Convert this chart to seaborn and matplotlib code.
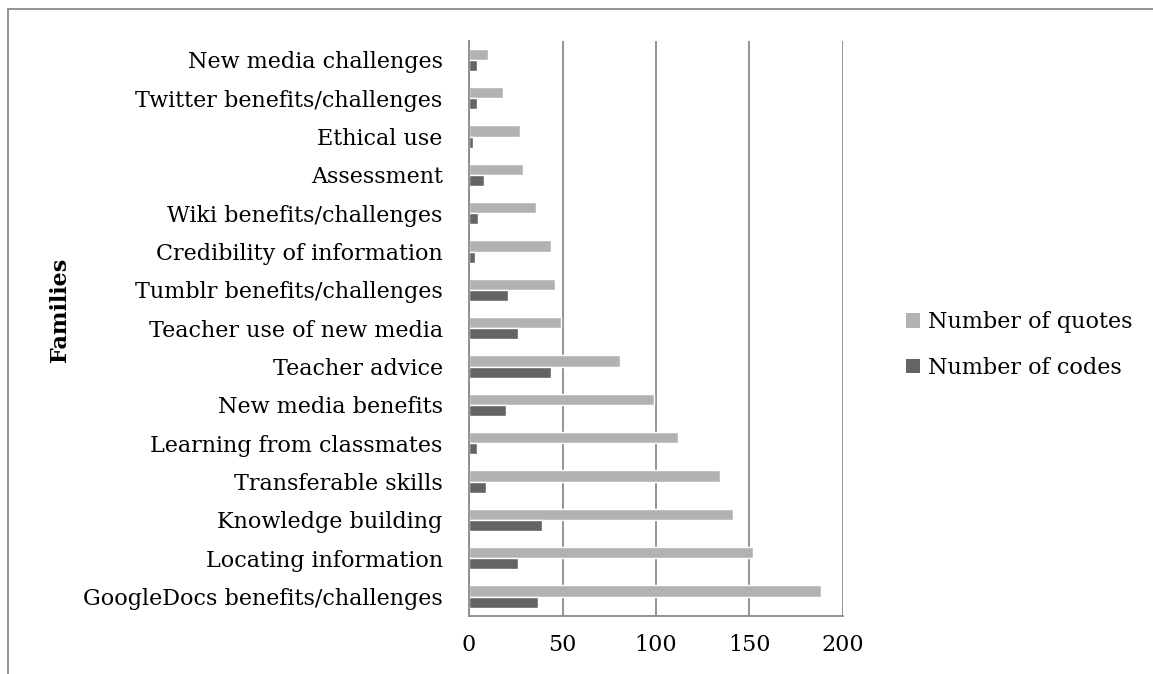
import matplotlib
matplotlib.use("Agg")
import matplotlib.pyplot as plt
import numpy as np
import pandas as pd
import seaborn as sns
from matplotlib.lines import Line2D
from matplotlib.patches import Patch

# Categories, listed top to bottom as they appear in the chart
families = [
    "New media challenges",
    "Twitter benefits/challenges",
    "Ethical use",
    "Assessment",
    "Wiki benefits/challenges",
    "Credibility of information",
    "Tumblr benefits/challenges",
    "Teacher use of new media",
    "Teacher advice",
    "New media benefits",
    "Learning from classmates",
    "Transferable skills",
    "Knowledge building",
    "Locating information",
    "GoogleDocs benefits/challenges",
]
quotes = [10, 18, 27, 29, 36, 44, 46, 49, 81, 99, 112, 134, 141, 152, 188]
codes = [4, 4, 2, 8, 5, 3, 21, 26, 44, 20, 4, 9, 39, 26, 37]
series = ["Number of quotes", "Number of codes"]
colors = ["#B2B2B2", "#646464"]
xticks = [0, 50, 100, 150, 200]

df = pd.DataFrame({
    "family": families * 2,
    "value": quotes + codes,
    "series": [series[0]] * len(families) + [series[1]] * len(families),
})

sns.set_style("white")
plt.rcParams["font.family"] = ["DejaVu Serif"]
plt.rcParams["text.color"] = "black"
plt.rcParams["axes.labelcolor"] = "black"

fs = 16
fig = plt.figure(figsize=(11.53, 6.74), dpi=100)
ax = fig.add_axes([0.4068, 0.0865, 0.3243, 0.8531])

sns.barplot(data=df, x="value", y="family", hue="series", hue_order=series,
            palette=colors, width=0.58, orient="h", ax=ax, legend=False,
            saturation=1)

ax.set_xlim(0, 200)
ax.set_xticks(xticks)
ax.set_xticklabels([str(t) for t in xticks], fontsize=fs)
ax.set_ylim(len(families) - 0.5, -0.5)
ax.set_xlabel("")
ax.set_ylabel("Families", fontsize=fs, fontweight="bold")
ax.yaxis.set_label_coords(-1.064, 0.532)
ax.tick_params(axis="y", length=0, labelsize=fs, pad=19, labelcolor="black")
ax.set_yticks(np.arange(len(families)) - 0.5, minor=True)
ax.tick_params(axis="y", which="minor", length=8, width=1.3, color="#8a8a8a",
               direction="out")
ax.tick_params(axis="x", length=9, width=1.3, color="#8a8a8a",
               direction="out", pad=4, labelcolor="black")

ax.xaxis.grid(True, color="#8a8a8a", linewidth=1.3)
ax.set_axisbelow(True)
for side in ["top", "right"]:
    ax.spines[side].set_visible(False)
for side in ["left", "bottom"]:
    ax.spines[side].set_color("#8a8a8a")
    ax.spines[side].set_linewidth(1.3)

handles = [Patch(facecolor=c, edgecolor="none") for c in colors]
fig.legend(handles, series, loc="center left", bbox_to_anchor=(0.768, 0.488),
           frameon=False, fontsize=fs, handlelength=0.65, handleheight=0.65,
           handletextpad=0.35, labelspacing=1.05)

# outer chart frame (top and left edges visible)
fig.add_artist(Line2D([8 / 1153, 1], [1 - 9 / 674, 1 - 9 / 674],
                      color="#8a8a8a", linewidth=1.3, transform=fig.transFigure))
fig.add_artist(Line2D([8 / 1153, 8 / 1153], [0, 1 - 9 / 674],
                      color="#8a8a8a", linewidth=1.3, transform=fig.transFigure))

fig.savefig("out.png", dpi=100)
